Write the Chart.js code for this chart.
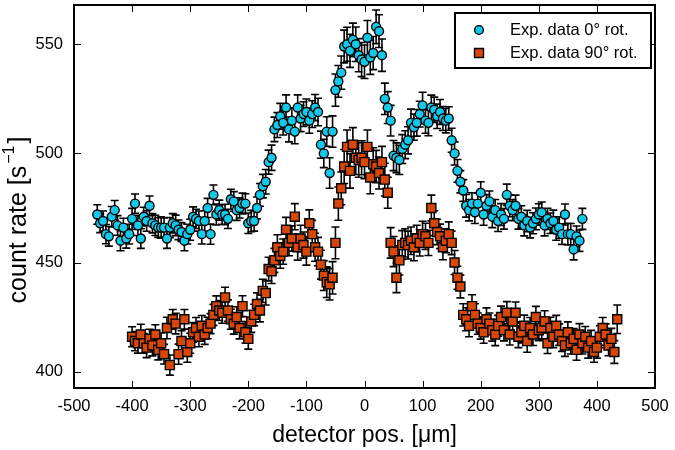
<!DOCTYPE html>
<html><head><meta charset="utf-8">
<script src="https://cdn.jsdelivr.net/npm/chart.js@4.4.1/dist/chart.umd.min.js"></script>
<style>html,body{margin:0;padding:0;background:#fff}#wrap{width:675px;height:450px}</style>
</head><body><div id="wrap"><canvas id="c" width="675" height="450"></canvas></div>
<script>
// ---------------- data ----------------
const seriesLabels = ['Exp. data 0\u00b0 rot.', 'Exp. data 90\u00b0 rot.'];
const xTitle = 'detector pos. [\u03bcm]';
const yTitleMain = 'count rate [s';
const yTitleSup = '\u22121';
const yTitleEnd = ']';
const xTicks = [-500,-400,-300,-200,-100,0,100,200,300,400,500];
const yTicks = [400,450,500,550];

const xPos0 = [
-460,-455,-450,-445,-440,-435,-430,-425,-420,-415,
-410,-405,-400,-395,-390,-385,-380,-375,-370,-365,
-360,-355,-350,-345,-340,-335,-330,-325,-320,-315,
-310,-305,-300,-295,-290,-285,-280,-275,-270,-265,
-260,-255,-250,-245,-240,-235,-230,-225,-220,-215,
-210,-205,-200,-195,-190,-185,-180,-175,-170,-165,
-160,-155,-150,-145,-140,-135,-130,-125,-120,-115,
-110,-105,-100,-95,-90,-85,-80,-75,-70,-65,
-60,-55,-50,-45,-40,-35,-30,-25,-20,-15,
-10,-5,0,5,10,15,20,25,30,35,
40,45,50,55,60,65,70,75,80,85,
90,95,100,105,110,115,120,125,130,135,
140,145,150,155,160,165,170,175,180,185,
190,195,200,205,210,215,220,225,230,235,
240,245,250,255,260,265,270,275,280,285,
290,295,300,305,310,315,320,325,330,335,
340,345,350,355,360,365,370,375];
const rate0 = [
472,468,469,463,462,471,474,467,460,466,
461,463,470,477,467,461,471,469,476,468,
467,466,466,466,461,466,468,467,465,464,
460,463,465,471,470,469,463,469,475,463,
481,472,474,472,472,470,479,478,474,475,
477,477,468,469,469,475,481,485,487,496,
498,511,513,517,514,521,511,515,510,521,
516,518,519,515,518,521,519,504,500,510,
491,510,529,533,537,549,550,547,552,550,
545,543,542,553,544,546,558,556,545,525,
521,515,499,498,497,502,504,506,514,512,
514,518,522,515,514,521,520,517,519,516,
515,516,506,500,492,487,483,476,474,477,
473,477,482,472,476,478,471,474,469,472,
470,481,476,474,476,470,471,467,469,466,
468,470,472,473,467,470,468,469,465,466,
463,472,463,463,456,462,460,470];
const err0 = [
4.5,4.3,4.6,4.4,4.5,4.7,4.4,4.5,4.6,4.3,4.4,4.5,4.8,4.4,4.6,4.5,
4.3,4.7,4.5,4.4,4.6,4.5,4.9,4.4,4.5,4.6,4.4,4.7,4.5,4.3,4.6,4.5,
4.8,4.5,4.4,4.6,4.5,4.7,4.4,4.6,4.5,4.8,4.6,4.5,4.7,4.4,4.6,4.5,
4.7,4.6,4.8,4.5,4.7,4.9,4.6,5.0,
5.2,5.4,5.6,5.5,5.8,5.6,5.7,5.9,5.6,5.8,5.7,5.9,5.6,5.8,6.0,5.7,5.9,5.8,6.1,6.0,6.3,6.2,6.5,
6.8,7.0,7.2,7.4,7.3,7.6,7.5,7.8,7.6,7.7,7.9,7.6,7.8,7.7,7.9,7.8,7.6,7.7,7.5,7.4,7.2,7.3,7.0,6.9,6.8,6.7,6.6,
6.4,6.2,6.3,6.0,6.1,5.9,6.0,5.8,5.9,5.7,5.8,5.6,5.7,5.5,5.6,5.4,5.5,5.3,5.2,
5.1,5.0,5.2,4.9,5.0,5.1,4.8,5.0,4.9,5.1,4.8,5.0,4.9,4.8,5.0,4.7,4.9,5.0,4.8,4.9,4.7,5.0,
4.8,4.9,4.7,4.8,5.0,4.9,4.7,4.8,4.9,4.7,5.0,4.8,4.9,4.7,4.8,5.0,4.9,4.8,4.7,4.9,4.8];

const xPos90 = [
-400,-395,-390,-385,-380,-375,-370,-365,-360,-355,
-350,-345,-340,-335,-330,-325,-320,-315,-310,-305,
-300,-295,-290,-285,-280,-275,-270,-265,-260,-255,
-250,-245,-240,-235,-230,-225,-220,-215,-210,-205,
-200,-195,-190,-185,-180,-175,-170,-165,-160,-155,
-150,-145,-140,-135,-130,-125,-120,-115,-110,-105,
-100,-95,-90,-85,-80,-75,-70,-65,-60,-55,
-50,-45,-40,-35,-30,-25,-20,-15,-10,-5,
0,5,10,15,20,25,30,35,40,45,
50,55,60,65,70,75,80,85,90,95,
100,105,110,115,120,125,130,135,140,145,
150,155,160,165,170,175,180,185,190,195,
200,205,210,215,220,225,230,235,240,245,
250,255,260,265,270,275,280,285,290,295,
300,305,310,315,320,325,330,335,340,345,
350,355,360,365,370,375,380,385,390,395,
400,405,410,415,420,425,430,435];
const rate90 = [
416,414,413,417,413,411,415,412,417,410,
413,408,420,403,424,422,408,414,424,409,
413,418,420,416,421,417,420,422,426,430,
428,427,434,428,424,422,425,420,430,418,
415,423,426,431,428,437,436,447,446,451,
457,453,455,465,459,461,471,457,461,458,
455,468,463,457,455,449,444,441,440,443,
459,477,484,494,503,492,504,498,497,498,
496,503,489,495,494,491,496,488,482,459,
455,443,451,458,459,458,460,457,461,459,
463,462,459,475,468,464,462,457,460,463,
459,450,443,439,426,424,421,430,426,422,
420,418,424,422,419,417,421,425,419,427,
417,423,427,416,418,421,414,420,417,425,
419,420,423,413,420,416,421,417,414,412,
418,413,415,410,417,413,416,411,414,409,
411,416,420,417,412,415,409,424];
const err90 = [
4.6,4.4,4.5,4.7,4.5,4.6,4.4,4.8,4.5,4.6,4.7,4.5,4.9,4.6,4.5,4.7,
4.6,4.8,4.5,4.7,4.6,4.5,4.8,4.6,4.7,4.5,4.9,4.6,4.8,4.7,4.6,4.8,
4.7,4.9,4.6,4.8,4.7,5.0,4.8,4.9,4.7,5.0,4.9,5.1,
5.2,5.3,5.5,5.4,5.6,5.5,5.7,5.6,5.8,5.7,5.9,5.8,6.0,5.9,6.1,6.0,6.2,6.1,6.3,6.4,6.5,6.6,6.8,
7.0,7.2,7.4,7.3,7.6,7.5,7.8,7.7,7.9,7.8,7.7,7.9,7.8,7.6,7.7,7.5,7.6,7.4,7.3,7.2,7.5,7.1,7.0,6.9,6.8,6.7,6.6,
6.5,6.4,6.3,6.2,6.1,6.0,5.9,6.0,5.8,5.9,5.7,5.8,5.6,5.7,5.5,5.6,5.4,5.5,5.3,
5.2,5.1,5.3,5.0,5.2,5.1,4.9,5.1,5.0,5.2,4.9,5.0,5.1,4.8,5.0,4.9,5.1,4.8,5.0,4.9,
5.0,4.8,4.9,5.1,4.8,5.0,4.9,4.8,5.0,4.9,4.7,4.9,5.0,4.8,4.9,4.7,5.0,4.8,4.9,4.7,
4.8,5.0,4.9,4.7,4.8,4.9,4.7,4.8,5.0,4.8,4.9,4.7,4.8,5.2,6.5];

// ---------------- styling ----------------
const FONT = "'Liberation Sans', Arial, Helvetica, sans-serif";
const CYAN = '#14c8ea';
const ORANGE = '#d8470a';
Chart.defaults.font.family = FONT;
Chart.defaults.color = '#000';

const errorBarPlugin = {
  id: 'errorBars',
  beforeDatasetDraw(chart, args) {
    const ds = chart.data.datasets[args.index];
    if (!ds.errors) return;
    const xs = chart.scales.x, ys = chart.scales.y, c = chart.ctx;
    const cap = 4;
    c.save();
    c.strokeStyle = '#000';
    c.lineWidth = 1.6;
    c.beginPath();
    ds.data.forEach((p, i) => {
      const e = ds.errors[i];
      const px = xs.getPixelForValue(p.x);
      const y1 = ys.getPixelForValue(p.y + e);
      const y2 = ys.getPixelForValue(p.y - e);
      c.moveTo(px, y1); c.lineTo(px, y2);
      c.moveTo(px - cap, y1); c.lineTo(px + cap, y1);
      c.moveTo(px - cap, y2); c.lineTo(px + cap, y2);
    });
    c.stroke();
    c.restore();
  }
};

const framePlugin = {
  id: 'frameTicksLegend',
  afterDraw(chart) {
    const {ctx: c, chartArea: a, scales: {x: xs, y: ys}} = chart;
    c.save();
    // inward ticks on all four sides
    c.strokeStyle = '#000';
    c.lineWidth = 1;
    const tl = 7;
    c.beginPath();
    xTicks.forEach(v => {
      const px = Math.round(xs.getPixelForValue(v)) + 0.5;
      c.moveTo(px, a.bottom); c.lineTo(px, a.bottom - tl);
      c.moveTo(px, a.top); c.lineTo(px, a.top + tl);
    });
    yTicks.forEach(v => {
      const py = Math.round(ys.getPixelForValue(v)) + 0.5;
      c.moveTo(a.left, py); c.lineTo(a.left + tl, py);
      c.moveTo(a.right, py); c.lineTo(a.right - tl, py);
    });
    c.stroke();
    // frame
    c.lineWidth = 2;
    c.strokeRect(a.left, a.top, a.right - a.left, a.bottom - a.top);

    // legend box
    const lx = 455, ly = 13, lw = 196, lh = 55;
    c.fillStyle = '#fff';
    c.fillRect(lx, ly, lw, lh);
    c.lineWidth = 2;
    c.strokeRect(lx, ly, lw, lh);
    const rows = [30, 53];
    chart.data.datasets.forEach((ds, i) => {
      const cy = rows[i];
      const cx = lx + 24;
      c.fillStyle = ds.backgroundColor;
      c.strokeStyle = '#000';
      c.lineWidth = 1.4;
      c.beginPath();
      if (ds.pointStyle === 'rect') {
        c.rect(cx - 4.5, cy - 4.5, 9, 9);
      } else {
        c.arc(cx, cy, 4.4, 0, Math.PI * 2);
      }
      c.fill(); c.stroke();
      c.fillStyle = '#000';
      c.font = '16.5px ' + FONT;
      c.textAlign = 'left';
      c.textBaseline = 'middle';
      c.fillText(ds.label, lx + 55, cy);
    });

    // y-axis title with superscript
    c.save();
    c.translate(19, 220);
    c.rotate(-Math.PI / 2);
    c.fillStyle = '#000';
    c.textBaseline = 'middle';
    c.textAlign = 'left';
    const mainF = '25px ' + FONT, supF = '16px ' + FONT;
    c.font = mainF; const w1 = c.measureText(yTitleMain).width;
    c.font = supF; const w2 = c.measureText(yTitleSup).width;
    c.font = mainF; const w3 = c.measureText(yTitleEnd).width;
    let sx = -(w1 + w2 + 4 + w3) / 2;
    c.font = mainF; c.fillText(yTitleMain, sx, 0); sx += w1 + 2;
    c.font = supF; c.fillText(yTitleSup, sx, -9); sx += w2 + 2;
    c.font = mainF; c.fillText(yTitleEnd, sx, 0);
    c.restore();
    c.restore();
  }
};

function zeroPad(s) { s.paddingTop = 0; s.paddingBottom = 0; s.paddingLeft = 0; s.paddingRight = 0; }

new Chart(document.getElementById('c'), {
  type: 'scatter',
  data: {
    datasets: [
      {
        label: seriesLabels[0],
        data: xPos0.map((x, i) => ({x: x, y: rate0[i]})),
        errors: err0,
        pointStyle: 'circle',
        pointRadius: 4.5,
        pointHoverRadius: 4.5,
        backgroundColor: CYAN,
        borderColor: '#000',
        borderWidth: 1.4,
        order: 1
      },
      {
        label: seriesLabels[1],
        data: xPos90.map((x, i) => ({x: x, y: rate90[i]})),
        errors: err90,
        pointStyle: 'rect',
        pointRadius: 6.4,
        pointHoverRadius: 6.4,
        backgroundColor: ORANGE,
        borderColor: '#000',
        borderWidth: 1.4,
        order: 0
      }
    ]
  },
  options: {
    responsive: false,
    animation: false,
    devicePixelRatio: 1,
    layout: {autoPadding: false, padding: {left: 0, right: 20, top: 5, bottom: 0}},
    plugins: {legend: {display: false}, tooltip: {enabled: false}},
    scales: {
      x: {
        type: 'linear',
        min: -500, max: 500,
        afterBuildTicks: s => { s.ticks = xTicks.map(v => ({value: v})); },
        afterFit: s => { s.height = 62; zeroPad(s); },
        grid: {display: false, drawTicks: false},
        border: {display: false},
        ticks: {font: {size: 16.5, family: FONT}, color: '#000', padding: 9, maxRotation: 0,
                callback: v => String(v)},
        title: {display: true, text: xTitle, font: {size: 23, family: FONT}, color: '#000',
                padding: {top: 0, bottom: 1}}
      },
      y: {
        type: 'linear',
        min: 392.5, max: 568,
        afterBuildTicks: s => { s.ticks = yTicks.map(v => ({value: v})); },
        afterFit: s => { s.width = 74; zeroPad(s); },
        grid: {display: false, drawTicks: false},
        border: {display: false},
        ticks: {font: {size: 16.5, family: FONT}, color: '#000', padding: 11,
                callback: v => String(v)},
        title: {display: false}
      }
    }
  },
  plugins: [errorBarPlugin, framePlugin]
});
</script>
</body></html>
